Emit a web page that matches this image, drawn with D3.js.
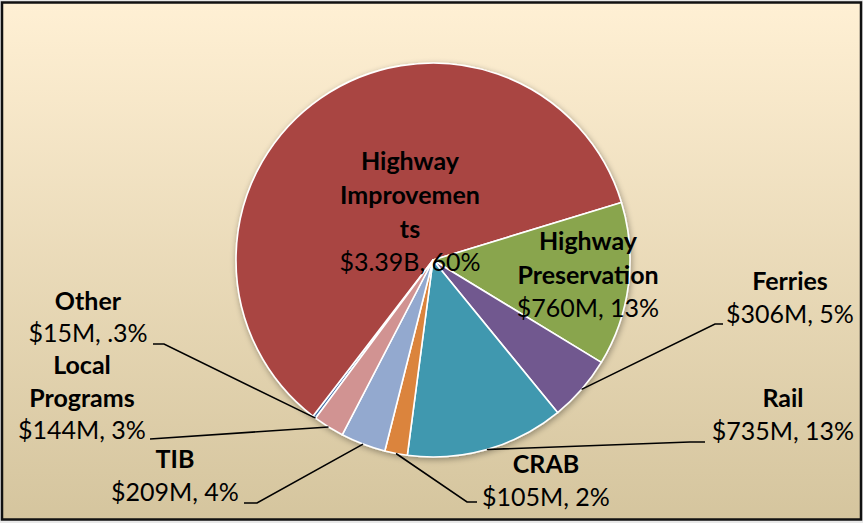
<!DOCTYPE html>
<html>
<head>
<meta charset="utf-8">
<script src="https://cdn.jsdelivr.net/npm/d3@7"></script>
<style>
  html, body { margin: 0; padding: 0; background: #ffffff; }
  svg { display: block; }
  text { font-family: Lato, "Open Sans", sans-serif; fill: #000; }
</style>
</head>
<body>
<svg id="chart" width="863" height="523"></svg>
<script>
// ---- data (clockwise order as drawn) ----
const categories = ["Other", "Highway Improvements", "Highway Preservation", "Ferries", "Rail", "CRAB", "TIB", "Local Programs"];
const values = [15, 3390, 760, 306, 735, 105, 209, 144]; // $ millions
const valueLabels = ["$15M, .3%", "$3.39B, 60%", "$760M, 13%", "$306M, 5%", "$735M, 13%", "$105M, 2%", "$209M, 4%", "$144M, 3%"];
const nameLines = [["Other"], ["Highway", "Improvemen", "ts"], ["Highway", "Preservation"], ["Ferries"], ["Rail"], ["CRAB"], ["TIB"], ["Local", "Programs"]];
const colors = ["#4a76ad", "#a94543", "#89a54e", "#71588f", "#4198af", "#db843d", "#93a9cf", "#d19392"];

// ---- layout ----
const W = 863, H = 523;
const cx = 433, cy = 260, R = 197;
const startDeg = 216.6;
const lineH = 34;
// label anchor: centre x, baseline of first line; leader: end points near label (null = inside slice)
const labelLayout = {
  "Other":                { x: 88,  y: 310, lh: 33, leader: [[164, 344], [153, 344]] },
  "Highway Improvements": { x: 410, y: 170, lh: 34, leader: null },
  "Highway Preservation": { x: 588, y: 250, lh: 34, leader: null },
  "Ferries":              { x: 790, y: 290, lh: 34, leader: [[715, 324], [723, 324]] },
  "Rail":                 { x: 783, y: 407, lh: 34, leader: [[690, 442], [705, 442]] },
  "CRAB":                 { x: 546, y: 473, lh: 34, leader: [[467, 502], [477, 502]] },
  "TIB":                  { x: 175, y: 468, lh: 34, leader: [[257, 503], [244, 503]] },
  "Local Programs":       { x: 82,  y: 374, lh: 33, leader: [[150, 439]] }
};

const svg = d3.select("#chart");
const defs = svg.append("defs");
const grad = defs.append("linearGradient").attr("id", "bg").attr("x1", 0).attr("y1", 0).attr("x2", 0).attr("y2", 1);
grad.append("stop").attr("offset", "0%").attr("stop-color", "#fff0d4");
grad.append("stop").attr("offset", "100%").attr("stop-color", "#d5c59e");

const shadow = defs.append("filter").attr("id", "shadow").attr("x", "-10%").attr("y", "-10%").attr("width", "120%").attr("height", "120%");
shadow.append("feGaussianBlur").attr("in", "SourceAlpha").attr("stdDeviation", 3).attr("result", "b");
shadow.append("feOffset").attr("in", "b").attr("dx", 1).attr("dy", 2).attr("result", "o");
shadow.append("feComponentTransfer").attr("in", "o").attr("result", "s")
  .append("feFuncA").attr("type", "linear").attr("slope", 0.35);
const merge = shadow.append("feMerge");
merge.append("feMergeNode").attr("in", "s");
merge.append("feMergeNode").attr("in", "SourceGraphic");

// background + frame
svg.append("rect").attr("x", 0).attr("y", 0).attr("width", W).attr("height", H).attr("fill", "#e8e8e8");
svg.append("rect").attr("x", 2).attr("y", 2.5).attr("width", 859).attr("height", 517)
  .attr("fill", "url(#bg)").attr("stroke", "#111").attr("stroke-width", 2.5);

const rad = d => d * Math.PI / 180;
const pie = d3.pie().sort(null).value(d => d.value)
  .startAngle(rad(startDeg)).endAngle(rad(startDeg) + 2 * Math.PI);
const data = categories.map((c, i) => ({ name: c, value: values[i], color: colors[i], label: valueLabels[i], lines: nameLines[i] }));
const arcs = pie(data);
const arc = d3.arc().innerRadius(0).outerRadius(R);

const g = svg.append("g").attr("transform", `translate(${cx},${cy})`);
const pieG = g.append("g").attr("filter", "url(#shadow)");
pieG.selectAll("path.slice").data(arcs).join("path")
  .attr("class", "slice")
  .attr("d", arc)
  .attr("fill", d => d.data.color)
  .attr("stroke", "#ffffff")
  .attr("stroke-width", 1.6)
  .attr("stroke-linejoin", "round");

// leader lines (from slice edge to label)
arcs.forEach(d => {
  const L = labelLayout[d.data.name];
  if (!L.leader) return;
  const a = d.data.name === "Other" ? d.startAngle : (d.startAngle + d.endAngle) / 2;
  const p0 = [cx + R * Math.sin(a), cy - R * Math.cos(a)];
  svg.append("path")
    .attr("d", d3.line()([p0].concat(L.leader)))
    .attr("fill", "none").attr("stroke", "#000").attr("stroke-width", 1.6);
});

// labels
arcs.forEach(d => {
  const L = labelLayout[d.data.name];
  const t = svg.append("text").attr("text-anchor", "middle");
  d.data.lines.forEach((ln, i) => {
    t.append("tspan").attr("x", L.x).attr("y", L.y + i * L.lh)
      .attr("font-weight", "bold").attr("font-size", 25).text(ln);
  });
  t.append("tspan").attr("x", L.x).attr("y", L.y + d.data.lines.length * L.lh - 1)
    .attr("font-size", 25).text(d.data.label);
});
</script>
</body>
</html>
